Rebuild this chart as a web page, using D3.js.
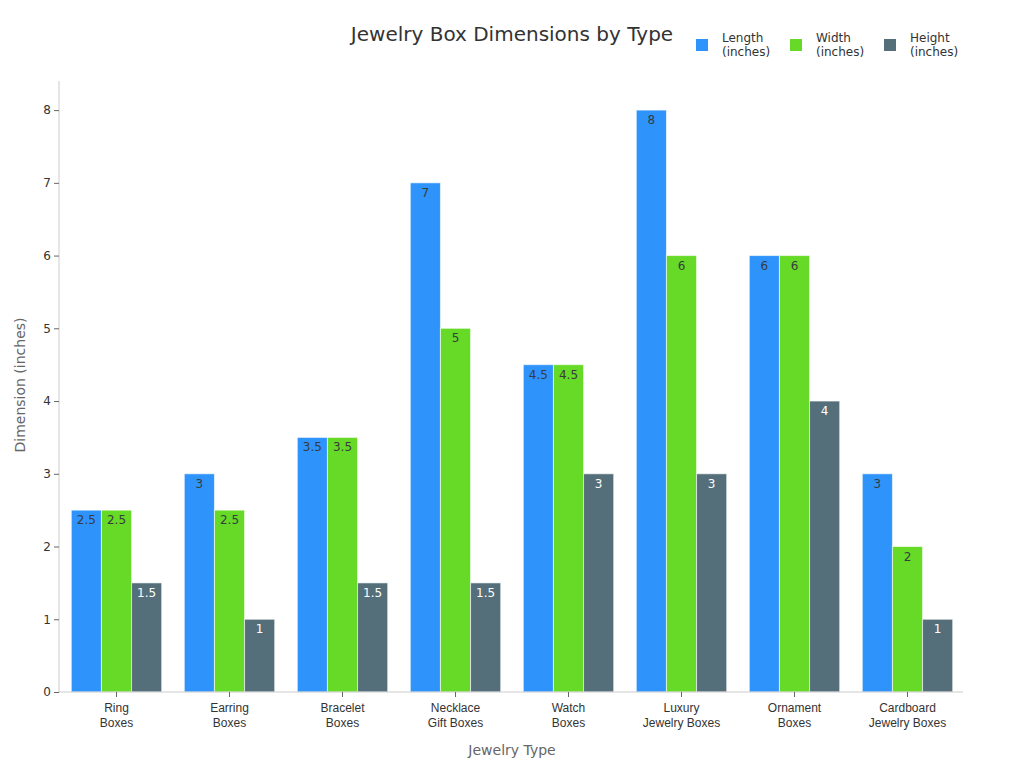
<!DOCTYPE html>
<html><head><meta charset="utf-8">
<script src="https://cdn.jsdelivr.net/npm/d3@7"></script>
<style>body{margin:0;background:#fff;font-family:"DejaVu Sans",sans-serif;}</style>
</head><body><svg id="c" width="1024" height="768"></svg>
<script>
const categories = [["Ring","Boxes"],["Earring","Boxes"],["Bracelet","Boxes"],["Necklace","Gift Boxes"],["Watch","Boxes"],["Luxury","Jewelry Boxes"],["Ornament","Boxes"],["Cardboard","Jewelry Boxes"]];
const seriesNames = [["Length","(inches)"],["Width","(inches)"],["Height","(inches)"]];
const lengthVals = [2.5,3,3.5,7,4.5,8,6,3];
const widthVals = [2.5,2.5,3.5,5,4.5,6,6,2];
const heightVals = [1.5,1,1.5,1.5,3,3,4,1];
const yTicks = [0,1,2,3,4,5,6,7,8];
const colors = ["#2E93FA","#66DA26","#546E7A"];
const labelColors = ["#373d3f","#373d3f","#fff"];
const series = [lengthVals,widthVals,heightVals];

const svg = d3.select("#c");
const m = {l:59, r:963, t:81, b:692};
const x = d3.scaleBand().domain(d3.range(categories.length)).range([m.l+1,m.r+1]).paddingInner(0.2).paddingOuter(0.1);
const xs = d3.scaleBand().domain(d3.range(3)).range([0,x.bandwidth()]);
const y = d3.scaleLinear().domain([0,8.4]).range([m.b,m.t]);

// bars
series.forEach((vals,si)=>{
  const g = svg.append("g");
  g.selectAll("rect").data(vals).join("rect")
    .attr("x",(d,i)=>x(i)+xs(si))
    .attr("y",d=>y(d))
    .attr("width",xs.bandwidth())
    .attr("height",d=>y(0)-y(d))
    .attr("fill",colors[si])
    .attr("stroke","#fff").attr("stroke-opacity",0.6).attr("stroke-width",1);
  g.selectAll("text").data(vals).join("text")
    .attr("x",(d,i)=>x(i)+xs(si)+xs.bandwidth()/2)
    .attr("y",d=>y(d)+14)
    .attr("text-anchor","middle")
    .attr("font-size",12)
    .attr("fill",labelColors[si])
    .text(d=>d);
});

// axes
const ya = svg.append("g").attr("transform",`translate(${m.l},0)`)
  .call(d3.axisLeft(y).tickValues(yTicks).tickSize(5).tickPadding(3));
ya.select(".domain").attr("stroke","#ccc").attr("d",`M0,${m.t}V${m.b}`);
ya.selectAll(".tick line").attr("stroke","#666");
ya.selectAll(".tick text").attr("font-size",12).attr("fill","#333").attr("font-family","DejaVu Sans");

const xa = svg.append("g").attr("transform",`translate(0,${m.b})`)
  .call(d3.axisBottom(x).tickSize(5).tickFormat(""));
xa.select(".domain").attr("stroke","#ccc").attr("d",`M${m.l},0H${m.r}`);
xa.selectAll(".tick line").attr("stroke","#666");
xa.selectAll(".tick").each(function(d){
  const t = d3.select(this).append("text").attr("text-anchor","middle").attr("font-size",12).attr("fill","#333");
  categories[d].forEach((s,k)=>t.append("tspan").attr("x",0).attr("y",20+k*15).text(s));
});

// titles
svg.append("text").attr("x",512).attr("y",41).attr("text-anchor","middle").attr("font-size",20).attr("fill","#333").text("Jewelry Box Dimensions by Type");
svg.append("text").attr("x",512).attr("y",755).attr("text-anchor","middle").attr("font-size",14).attr("fill","#666").text("Jewelry Type");
svg.append("text").attr("transform","translate(25,385) rotate(-90)").attr("text-anchor","middle").attr("font-size",14).attr("fill","#666").text("Dimension (inches)");

// legend
const lx = [696,790,884];
seriesNames.forEach((n,i)=>{
  svg.append("rect").attr("x",lx[i]).attr("y",39).attr("width",12).attr("height",12).attr("fill",colors[i]);
  const t = svg.append("text").attr("font-size",12).attr("fill","#333");
  n.forEach((s,k)=>t.append("tspan").attr("x",lx[i]+26).attr("y",42+k*14).text(s));
});
</script></body></html>
